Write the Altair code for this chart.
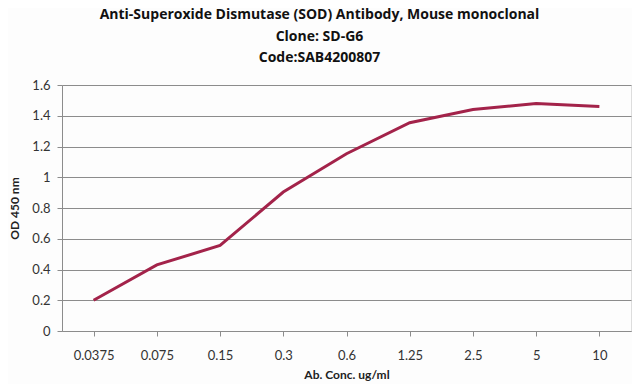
import altair as alt
import pandas as pd

conc = ["0.0375", "0.075", "0.15", "0.3", "0.6", "1.25", "2.5", "5", "10"]
od = [0.20, 0.43, 0.556, 0.904, 1.153, 1.355, 1.44, 1.48, 1.46]
y_ticks = [0, 0.2, 0.4, 0.6, 0.8, 1.0, 1.2, 1.4, 1.6]

df = pd.DataFrame({"conc": conc, "od": od})

W, H = 569, 246

line = alt.Chart(df).mark_line(color="#a3234a", strokeWidth=3).encode(
    x=alt.X("conc:N", sort=conc, title="Ab. Conc. ug/ml",
            scale=alt.Scale(paddingInner=0, paddingOuter=0),
            axis=alt.Axis(labelAngle=0, bandPosition=0,
                          grid=False, tickSize=5, tickColor="#8c8c8c",
                          domainColor="#8c8c8c", labelPadding=13,
                          labelFontSize=13, labelColor="#333333",
                          labelFont="Lato", titleFont="Lato", titleFontSize=12,
                          titleFontWeight="bold", titleColor="#222222",
                          titlePadding=7)),
    y=alt.Y("od:Q", title="OD 450 nm",
            scale=alt.Scale(domain=[0, 1.6]),
            axis=alt.Axis(values=y_ticks, format=".1~f",
                          grid=True, gridColor="#8c8c8c", gridWidth=1,
                          tickSize=5, tickColor="#8c8c8c", domainColor="#8c8c8c",
                          labelPadding=7, labelFontSize=13, labelColor="#333333",
                          labelFont="Lato", titleFont="Lato", titleFontSize=12,
                          titleFontWeight="bold", titleColor="#222222",
                          titlePadding=10)),
)

chart = line.properties(
    width=W, height=H,
    title=alt.TitleParams(
        text=["Anti-Superoxide Dismutase (SOD) Antibody, Mouse monoclonal",
              "Clone: SD-G6", "Code:SAB4200807"],
        font="Open Sans", fontSize=14, fontWeight="bold", color="#111111",
        lineHeight=21.5, anchor="middle", dx=-27, offset=14),
    autosize=alt.AutoSizeParams(type="none"),
    padding={"left": 54, "top": 77, "right": 1, "bottom": 53},
).configure_view(stroke=None).configure(background="#fdfdfd")

chart.save("out.html", embed_options={"renderer": "svg", "actions": False})
